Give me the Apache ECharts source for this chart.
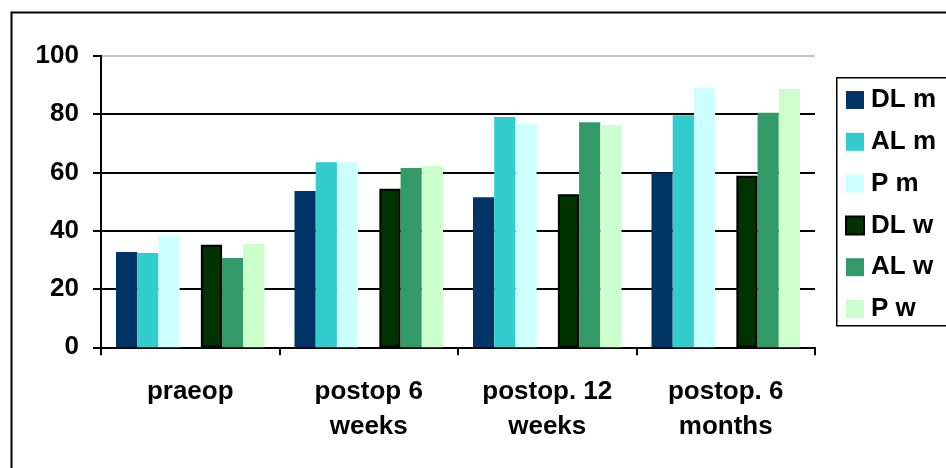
<!DOCTYPE html>
<html>
<head>
<meta charset="utf-8">
<script src="https://cdn.jsdelivr.net/npm/echarts@6/dist/echarts.min.js"></script>
<style>
  html, body { margin: 0; padding: 0; background: #fff; }
  #chart { width: 946px; height: 468px; }
</style>
</head>
<body>
<div id="chart"></div>
<script>
// Time points (x categories)
const categories = ['praeop', 'postop 6\nweeks', 'postop. 12\nweeks', 'postop. 6\nmonths'];

// Series values per time point
const DL_m = [32.7, 53.6, 51.5, 59.9];
const AL_m = [32.3, 63.5, 79.0, 79.6];
const P_m  = [38.2, 63.5, 76.6, 88.9];
const DL_w = [35.2, 54.4, 52.5, 58.8];
const AL_w = [30.6, 61.5, 77.2, 80.4];
const P_w  = [35.4, 62.2, 76.2, 88.6];

// Y-axis scale
const yMin = 0, yMax = 100, yStep = 20;

const FONT = 'Arial, "Liberation Sans", sans-serif';
const FS = 26;

const chart = echarts.init(document.getElementById('chart'), null, { renderer: 'canvas' });

function bar(name, data, color, extra) {
  return Object.assign({
    name: name,
    type: 'bar',
    data: data,
    barGap: '0%',
    barCategoryGap: '16.8%',
    itemStyle: { color: color },
    emphasis: { disabled: true },
    animation: false
  }, extra || {});
}

const option = {
  animation: false,
  backgroundColor: '#fff',
  textStyle: { fontFamily: FONT },
  graphic: [
    // outer chart frame
    { type: 'rect', left: 9, top: 10, shape: { width: 1000, height: 500 },
      style: { fill: 'none', stroke: '#000', lineWidth: 2 }, silent: true },
    // legend frame
    { type: 'rect', left: 836, top: 77, shape: { width: 200, height: 248 },
      style: { fill: '#fff', stroke: '#000', lineWidth: 1.5 }, silent: true, z: 0 }
  ],
  grid: { left: 101, top: 55.7, right: 131, bottom: 120.7, containLabel: false },
  legend: {
    orient: 'vertical',
    left: 840,
    top: 82,
    itemWidth: 18,
    itemHeight: 18,
    itemGap: 15.8,
    icon: 'rect',
    data: ['DL m', 'AL m', 'P m', 'DL w', 'AL w', 'P w'],
    textStyle: { fontFamily: FONT, fontSize: FS, fontWeight: 'bold', color: '#000', lineHeight: 26, padding: [0, 0, 0, 2] },
    z: 5
  },
  xAxis: {
    type: 'category',
    data: categories,
    axisLine: { lineStyle: { color: '#000', width: 2 } },
    axisTick: { show: true, length: 8, alignWithLabel: false, lineStyle: { color: '#000', width: 2 } },
    axisLabel: {
      color: '#000', fontFamily: FONT, fontSize: FS, fontWeight: 'bold',
      lineHeight: 35, margin: 27, interval: 0
    },
    splitLine: { show: false }
  },
  yAxis: {
    type: 'value',
    min: yMin, max: yMax, interval: yStep,
    axisLine: { show: true, lineStyle: { color: '#000', width: 2 } },
    axisTick: { show: true, length: 8, lineStyle: { color: '#000', width: 2 } },
    axisLabel: { color: '#000', fontFamily: FONT, fontSize: FS, fontWeight: 'bold', margin: 22 },
    splitLine: {
      show: true,
      lineStyle: { color: ['#000', '#000', '#000', '#000', '#000', '#c4c4c4'], width: 2 }
    }
  },
  series: [
    bar('DL m', DL_m, '#003366'),
    bar('AL m', AL_m, '#33CCCC'),
    bar('P m', P_m, '#CCFFFF'),
    // empty slot separating the two groups of bars
    { type: 'bar', data: [], barGap: '0%', barCategoryGap: '16.8%', silent: true },
    bar('DL w', DL_w, '#003300', { itemStyle: { color: '#003300', borderColor: '#000', borderWidth: 2 } }),
    bar('AL w', AL_w, '#339966'),
    bar('P w', P_w, '#CCFFCC')
  ]
};

chart.setOption(option);
</script>
</body>
</html>
